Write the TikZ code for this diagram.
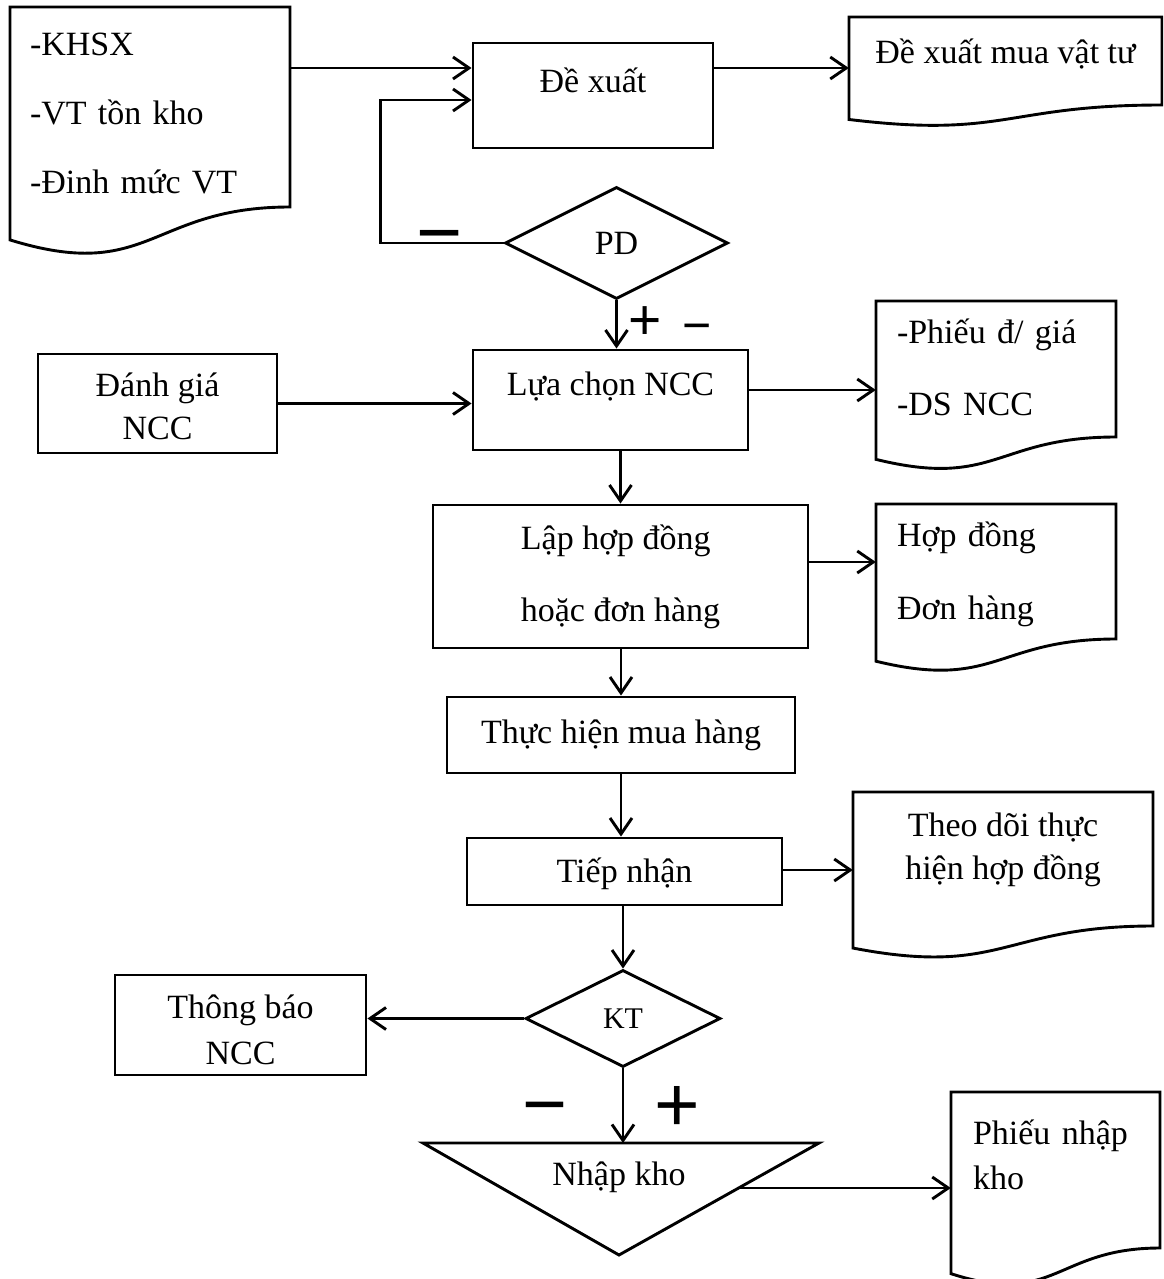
\documentclass[tikz,border=0pt]{standalone}
\usepackage{fontspec}
\setmainfont{Liberation Serif}
\newfontfamily\signfont{Liberation Sans}
\usetikzlibrary{arrows.meta,shapes.geometric}

% document symbol: flat top, wavy bottom (left end lower than right end)
% #1 = left x, #2 = top y, #3 = right x, #4 = y of the right bottom corner
\newcommand\docoutline[4]{%
  \pgfmathsetmacro\dh{(#4-#2)/0.802}%
  \pgfmathsetmacro\dyl{#2+0.934*\dh}%
  \pgfmathsetmacro\dcy{#2+1.1075*\dh}%
  \pgfmathsetmacro\dmx{(#1+#3)/2}%
  \draw[outline] (#1,#2) -- (#3,#2) -- (#3,#4)
    .. controls (\dmx,#4) and (\dmx,\dcy) .. (#1,\dyl) -- cycle;}

\tikzset{
  outline/.style={draw, line width=2.9pt, line join=miter},
  txt/.style={font=\fontsize{34}{40}\selectfont},
  box/.style={txt, draw, line width=2.9pt, rectangle, inner sep=0pt, align=center},
  decision/.style={txt, draw, line width=2.9pt, diamond, aspect=2, inner sep=0pt},
  doctext/.style={txt, inner ysep=0pt, align=left},
  arr/.style={line width=2.9pt, -{Straight Barb[length=16pt,width=22pt]}},
  sign/.style={font=\signfont\fontsize{#1}{#1}\selectfont, inner sep=0pt},
}

\begin{document}
\begin{tikzpicture}[x=1pt, y=-1pt]
\clip (0,0) rectangle (1163,1279);
\fill[white] (0,0) rectangle (1163,1279);

% ---- process boxes ----
\node[box, minimum width=240pt, minimum height=105pt] (dx) at (593,95.5)
  {\raisebox{15pt}[\height][\depth]{Đề xuất}};
\node[box, minimum width=275pt, minimum height=100pt] (lc) at (610.5,400)
  {\raisebox{13pt}[\height][\depth]{Lựa chọn NCC}};
\node[box, minimum width=239pt, minimum height=99pt,
      font=\fontsize{34}{43}\selectfont] (dg) at (157.5,403.5)
  {\raisebox{-3pt}[\height][\depth]{Đánh giá}\\\raisebox{-3pt}[\height][\depth]{NCC}};
\node[box, minimum width=375pt, minimum height=143pt, align=left,
      font=\fontsize{34}{72}\selectfont] (lhd) at (620.5,576.5) {Lập hợp đồng\\hoặc đơn hàng};
\node[box, minimum width=348pt, minimum height=76pt] (th) at (621,735) {Thực hiện mua hàng};
\node[box, minimum width=315pt, minimum height=67pt] (tn) at (624.5,871.5)
  {\raisebox{-2pt}[\height][\depth]{Tiếp nhận}};
\node[box, minimum width=251pt, minimum height=100pt,
      font=\fontsize{34}{46}\selectfont] (tb) at (240.5,1025)
  {\raisebox{-5pt}[\height][\depth]{Thông báo}\\\raisebox{-5pt}[\height][\depth]{NCC}};

% ---- decisions ----
\node[decision, minimum width=223pt, minimum height=112pt] (pd) at (616.5,243) {PD};
\node[decision, minimum width=195pt, minimum height=97pt,
      font=\fontsize{30}{36}\selectfont] (kt) at (623,1018.5) {KT};

% ---- storage (inverted triangle) ----
\draw[outline] (423,1143) -- (819,1143) -- (619,1255) -- cycle;
\node[txt, inner sep=0pt] (nk) at (619,1177) {Nhập kho};
\coordinate (nktop) at (623,1143);
\coordinate (nkedge) at (738.6,1188);

% ---- documents ----
\docoutline{10}{7}{290}{207}
\node[doctext, font=\fontsize{34}{69}\selectfont, minimum width=280pt,
      inner xsep=20pt, text width=240pt] (d1) at (150,114) {-KHSX\\-VT tồn kho\\-Đinh mức VT};

\docoutline{849}{17}{1162}{105}
\node[txt, inner sep=0pt, minimum width=313pt] (dxm) at (1005.5,54) {Đề xuất mua vật tư};

\docoutline{876}{301}{1116}{437}
\node[doctext, font=\fontsize{34}{72}\selectfont, minimum width=240pt,
      inner xsep=21pt, text width=198pt] (pdg) at (996,367.5) {-Phiếu đ/ giá\\-DS NCC};

\docoutline{876}{504}{1116}{639}
\node[doctext, font=\fontsize{34}{73}\selectfont, minimum width=240pt,
      inner xsep=21pt, text width=198pt] (hd) at (996,574) {Hợp đồng\\Đơn hàng};

\docoutline{853}{792}{1153}{926}
\node[txt, align=center, inner sep=0pt, minimum width=300pt,
      font=\fontsize{34}{43}\selectfont] (td) at (1003,850) {Theo dõi thực\\hiện hợp đồng};

\docoutline{951}{1092}{1160}{1248}
\node[doctext, font=\fontsize{34}{45}\selectfont, minimum width=209pt,
      inner xsep=22pt, text width=165pt] (pnk) at (1055.5,1155) {Phiếu nhập\\kho};

% ---- connectors ----
\draw[arr] (d1.east |- 0,68) -- (dx.west |- 0,68);
\draw[arr] (dx.east |- 0,68) -- (dxm.west |- 0,68);
\draw[arr] (pd.west) -- ++(-123,0) |- (dx.west |- 0,100);
\draw[arr] (pd.south) -- (pd.south |- lc.north);
\draw[arr] (dg.east) -- (dg.east -| lc.west);
\draw[arr] (lc.east |- 0,390) -- (pdg.west |- 0,390);
\draw[arr] (lhd.north |- lc.south) -- (lhd.north);
\draw[arr] (th.north |- lhd.south) -- (th.north);
\draw[arr] (th.south) -- (th.south |- tn.north);
\draw[arr] (lhd.east |- 0,562) -- (hd.west |- 0,562);
\draw[arr] (tn.east |- 0,870) -- (td.west |- 0,870);
\draw[arr] (kt.north |- tn.south) -- (kt.north);
\draw[arr] (kt.west) -- (kt.west -| tb.east);
\draw[arr] (kt.south) -- (nktop);
\draw[arr] (nkedge) -- (pnk.west |- nkedge);

% ---- branch signs ----
\node[sign=79] (sLoop) at (440,245) {−};
\node[sign=57] (sPlus1) at (645,323) {+};
\node[sign=50] (sMinus1) at (697,333) {−};
\node[sign=77] (sMinus2) at (545,1116) {−};
\node[sign=78] (sPlus2) at (677,1109) {+};
\end{tikzpicture}
\end{document}
